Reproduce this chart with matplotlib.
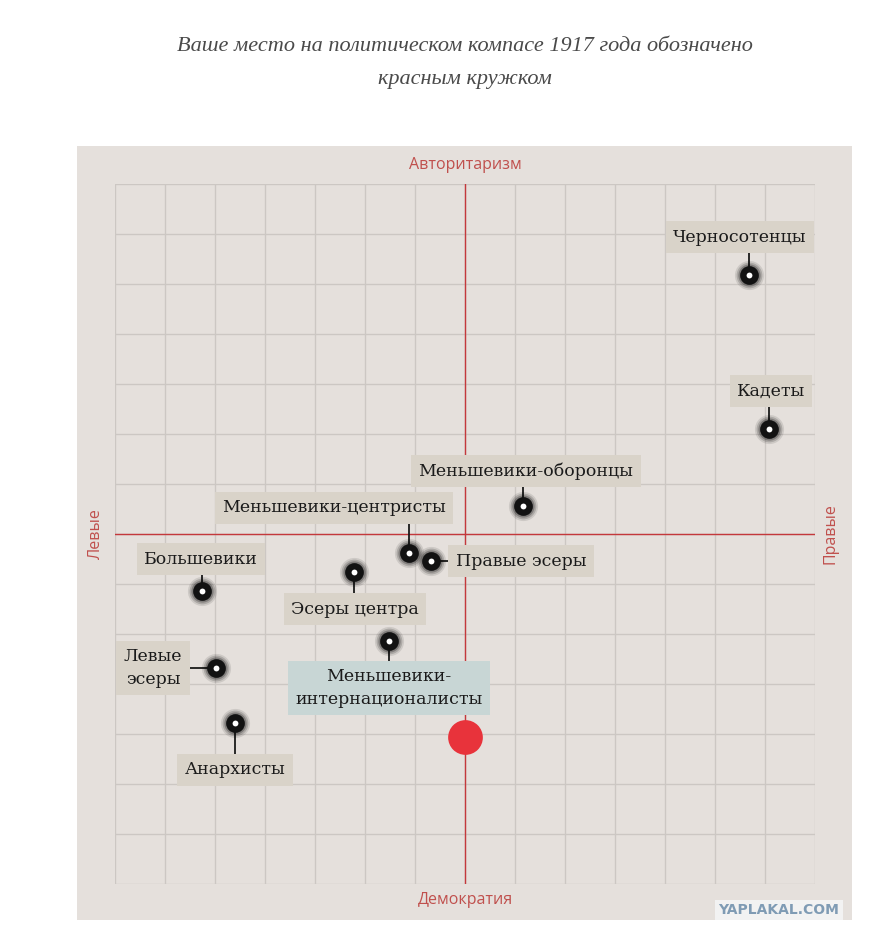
import matplotlib.pyplot as plt
from matplotlib.patches import Rectangle

# party positions on the compass (x: left/right, y: democracy/authoritarianism)
parties = [
    "Черносотенцы", "Кадеты", "Меньшевики-оборонцы", "Меньшевики-центристы",
    "Правые эсеры", "Большевики", "Эсеры центра",
    "Меньшевики-\nинтернационалисты", "Левые\nэсеры", "Анархисты",
]
party_x = [5.68, 6.08, 1.16, -1.12, -0.68, -5.26, -2.22, -1.52, -4.98, -4.60]
party_y = [5.18, 2.10, 0.56, -0.38, -0.54, -1.14, -0.76, -2.14, -2.68, -3.78]

you_x, you_y = 0.0, -4.06

title = "Ваше место на политическом компасе 1917 года обозначено\nкрасным кружком"
axis_top, axis_bottom = "Авторитаризм", "Демократия"
axis_left, axis_right = "Левые", "Правые"

# label offsets from each point (layout only)
label_dx = [-0.18, 0.04, 0.06, -1.50, 1.80, -0.02, 0.02, 0.00, -1.26, 0.00]
label_dy = [0.76, 0.76, 0.70, 0.90, 0.00, 0.64, -0.74, -0.94, 0.00, -0.94]
highlight = "Меньшевики-\nинтернационалисты"

BG = "#e5e0dc"
GRID = "#ccc7c3"
RED = "#c4383c"
AXTXT = "#c0504d"
BOX = "#d9d3c9"
BOX_HI = "#c8d6d5"
INK = "#1a1a1a"

fig = plt.figure(figsize=(8.77, 9.39), dpi=100)
fig.patch.set_facecolor("white")

# panel background
fig.patches.append(Rectangle((77 / 877, 1 - 920 / 939), 775 / 877, 774 / 939,
                             transform=fig.transFigure, facecolor=BG,
                             edgecolor="none", zorder=-1))

ax = fig.add_axes([115 / 877, 1 - 884 / 939, 700 / 877, 700 / 939])
ax.set_zorder(1)
ax.set_facecolor("none")
ax.set_xlim(-7, 7)
ax.set_ylim(-7, 7)
for v in range(-7, 8):
    ax.axvline(v, color=GRID, lw=1, zorder=1)
    ax.axhline(v, color=GRID, lw=1, zorder=1)
ax.axvline(0, color=RED, lw=1, zorder=2)
ax.axhline(0, color=RED, lw=1, zorder=2)
ax.set_xticks([])
ax.set_yticks([])
for s in ax.spines.values():
    s.set_visible(False)

for name, x, y, dx, dy in zip(parties, party_x, party_y, label_dx, label_dy):
    lx, ly = x + dx, y + dy
    # connector runs straight to the box, the box hides the rest
    if dy == 0:
        ax.plot([x, lx], [y, y], color=INK, lw=1.3, zorder=3)
    else:
        ax.plot([x, x], [y, ly], color=INK, lw=1.3, zorder=3)
    ax.text(lx, ly, name, ha="center", va="center", fontsize=12.5,
            family="DejaVu Serif", color=INK, linespacing=1.4, zorder=5,
            bbox=dict(boxstyle="square,pad=0.42",
                      facecolor=BOX_HI if name == highlight else BOX,
                      edgecolor="none"))
    # soft shadow around the marker
    for ms, a in [(21, 0.10), (18.5, 0.16), (16, 0.25)]:
        ax.plot(x, y, "o", ms=ms, color="black", alpha=a, mec="none", zorder=6)
    ax.plot(x, y, "o", ms=13.5, color="#121212", mec="none", zorder=7)
    ax.plot(x, y, "o", ms=4.2, color="white", mec="none", zorder=8)

ax.plot(you_x, you_y, "o", ms=25, color="#e8333b", mec="none", zorder=9)

fig.text(465 / 877, 1 - 165 / 939, axis_top, ha="center", va="center",
         fontsize=11.5, family="Open Sans", color=AXTXT)
fig.text(465 / 877, 1 - 900 / 939, axis_bottom, ha="center", va="center",
         fontsize=11.5, family="Open Sans", color=AXTXT)
fig.text(96 / 877, 1 - 534 / 939, axis_left, ha="center", va="center",
         rotation=90, fontsize=11.5, family="Open Sans", color=AXTXT)
fig.text(831 / 877, 1 - 534 / 939, axis_right, ha="center", va="center",
         rotation=90, fontsize=11.5, family="Open Sans", color=AXTXT)

fig.text(465 / 877, 1 - 63 / 939, title, ha="center", va="center",
         fontsize=16, family="Liberation Serif", style="italic",
         color="#4a4a4a", linespacing=2.0)

# watermark
fig.text(779 / 877, 1 - 910 / 939, "YAPLAKAL.COM", ha="center", va="center",
         fontsize=10, family="DejaVu Sans", weight="bold", color="#7f9bb4",
         bbox=dict(boxstyle="square,pad=0.25", facecolor="#f2f2f2",
                   edgecolor="none"))

fig.savefig("out.png", dpi=100)
